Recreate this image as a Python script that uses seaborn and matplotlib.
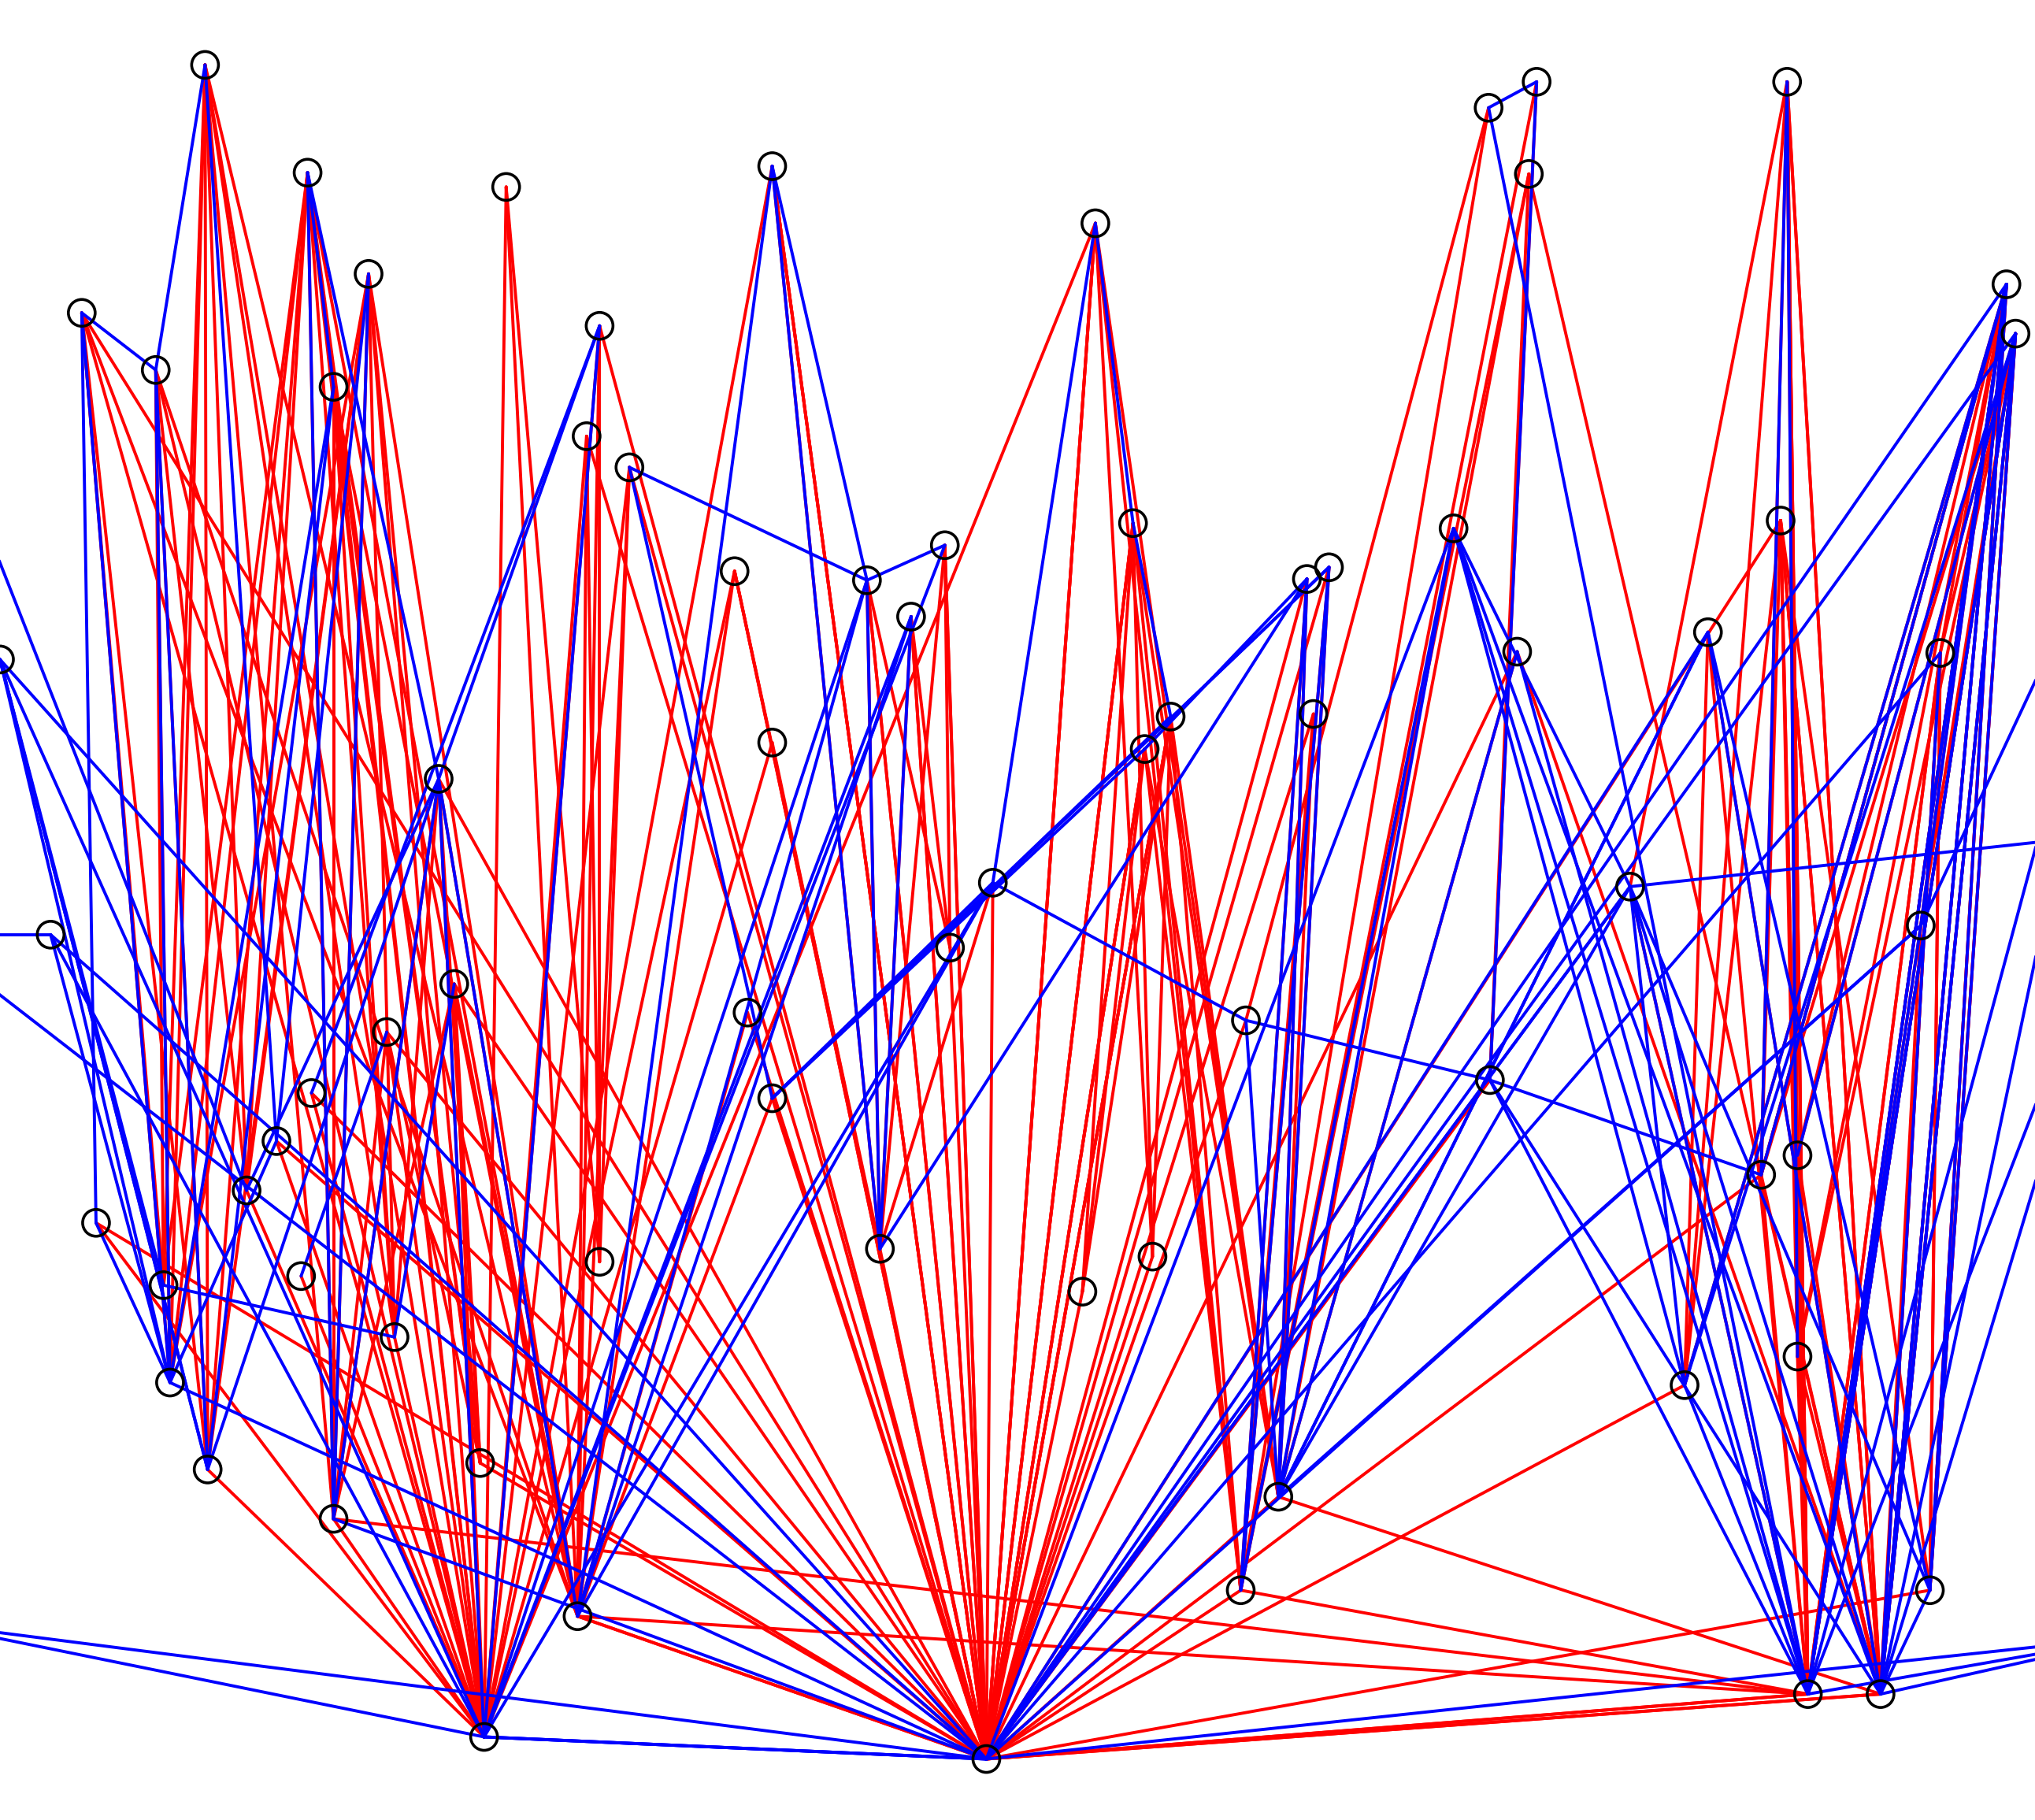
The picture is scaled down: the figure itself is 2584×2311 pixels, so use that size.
import matplotlib
matplotlib.use("Agg")
import matplotlib.pyplot as plt
import seaborn as sns
import pandas as pd

node_x = [158,237,284,390,595,844,1147,1184,1178,1377,1546,1553,63,120,257,462,452,485,566,668,
          728,702,873,1007,1024,1120,1169,1316,1372,1495,0,338,595,882,902,1012,765,732,39,350,
          298,240,213,576,595,960,1148,1256,1480,74,190,126,232,678,462,888,834,1357,1385,131,
          304,160,257,370,445,985,956,1298,1385,1487,1393,1449,373,760,
          -80,-60,-60,1650,1650,1650,-60]
node_y = [50,133,211,144,128,172,83,63,134,63,219,257,241,285,298,251,336,360,440,447,
          420,475,403,446,437,407,502,487,401,503,508,600,572,577,552,550,680,730,720,758,
          795,842,879,780,846,786,832,683,713,942,917,990,983,962,972,968,995,905,890,1065,
          1030,1132,1170,1127,1245,1153,1225,1067,1045,1225,1305,1305,1338,1355,
          230,1130,1250,350,640,1260,720]

red_src = ([73]*43 + [72]*25 + [70]*15 + [71]*14 + [64]*16 + [66]*10 + [65]*9 + [61]*5 + [62]*7
           + [59]*5 + [67]*3 + [69]*4 + [53]*6 + [6,9,8,7]
           + [10]*10 + [11]*8 + [9]*6 + [28]*4 + [29]*3 + [73]*14 + [63]*6 + [60]*5 + [51]*4 + [50]*4 + [54]*4 + [37]*3 + [55]*3 + [56]*3)
red_dst = [4,5,19,20,21,22,18,33,34,35,23,24,36,37,43,44,32,53,55,56,26,16,17,15,31,39,40,42,63,64,65,66,67,70,71,69,57,12,49,41,45,46,28,
           0,1,2,3,4,14,15,16,17,31,39,40,41,42,13,12,49,50,52,60,61,62,18,32,5,
           9,10,11,28,27,29,48,57,58,68,47,73,62,64,66,
           9,10,11,28,27,29,57,58,48,68,26,73,65,8,
           15,16,17,14,0,1,2,3,31,39,12,13,18,43,44,73,
           5,22,33,34,35,23,24,6,7,8,
           5,22,33,34,35,23,24,26,8,
           0,1,2,13,12,
           0,1,2,14,31,39,40,
           12,13,0,1,2,
           27,28,9,
           10,11,29,28,
           4,19,20,21,18,36,
           45,47,46,46,
           48,57,58,68,69,70,71,67,29,57,
           48,57,58,68,69,70,71,29,
           57,58,68,70,71,70,
           70,71,68,57,
           70,71,69,
           22,33,34,22,33,34,5,5,20,21,19,4,4,18,
           1,2,14,31,39,40,
           1,2,14,31,0,
           0,1,12,13,
           0,1,13,2,
           15,16,17,3,
           20,19,21,
           5,22,34,
           22,33,34]

blue_src = ([73]*16 + [72]*9 + [70]*12 + [71]*10 + [64]*5 + [66]*3 + [65]*6 + [61]*4 + [62]*3
            + [59]*4 + [67]*4 + [69]*4 + [53]*3 + [44]*4
            + [0,0,1,1,2,4,5,5,6,7,9,9,10,12,12,13,15,15,17,17,19,30,30,38,49,24,23,23,25,25,46,46,47,48,45,22,36,74,60,51]
            + [70,71,70,71,72,72,65,65,50,52,42,57,58])
blue_dst = [30,38,47,48,10,11,25,29,80,76,72,79,47,27,62,59,
            15,19,21,20,36,73,73,76,31,
            10,11,47,25,26,6,77,78,67,79,46,48,
            10,11,29,27,47,77,78,25,79,69,
            19,21,36,31,4,
            23,24,25,
            23,24,45,47,27,26,
            13,30,14,31,
            1,2,31,
            12,30,38,14,
            47,10,11,25,
            10,11,27,47,
            19,4,21,
            36,34,33,24,
            13,42,14,31,42,19,36,22,7,46,68,57,48,13,49,59,31,41,19,44,20,61,51,80,59,44,53,33,47,65,57,71,78,77,46,34,45,50,39,60,
            10,10,11,11,30,38,27,48,31,40,59,10,11]

rows = []
eid = 0
for kind, src, dst in (("red", red_src, red_dst), ("blue", blue_src, blue_dst)):
    for s, d in zip(src, dst):
        rows.append((eid, kind, node_x[s], node_y[s]))
        rows.append((eid, kind, node_x[d], node_y[d]))
        eid += 1
edges = pd.DataFrame(rows, columns=["edge", "kind", "x", "y"])
nodes = pd.DataFrame({"x": node_x, "y": node_y})

sns.set_style("white")
fig, ax = plt.subplots(figsize=(25.84, 23.11), dpi=100)
fig.subplots_adjust(0, 0, 1, 1)
sns.lineplot(data=edges, x="x", y="y", units="edge", estimator=None, hue="kind",
             palette={"red": "#ff0000", "blue": "#0000ff"}, sort=False, legend=False,
             linewidth=2.8, ax=ax)
sns.scatterplot(data=nodes, x="x", y="y", s=600, facecolors="none", edgecolor="black",
                linewidth=2.6, ax=ax, zorder=5)
ax.set_xlim(0, 1568)
ax.set_ylim(1402, 0)
ax.axis("off")
fig.savefig("out.png", dpi=100)
